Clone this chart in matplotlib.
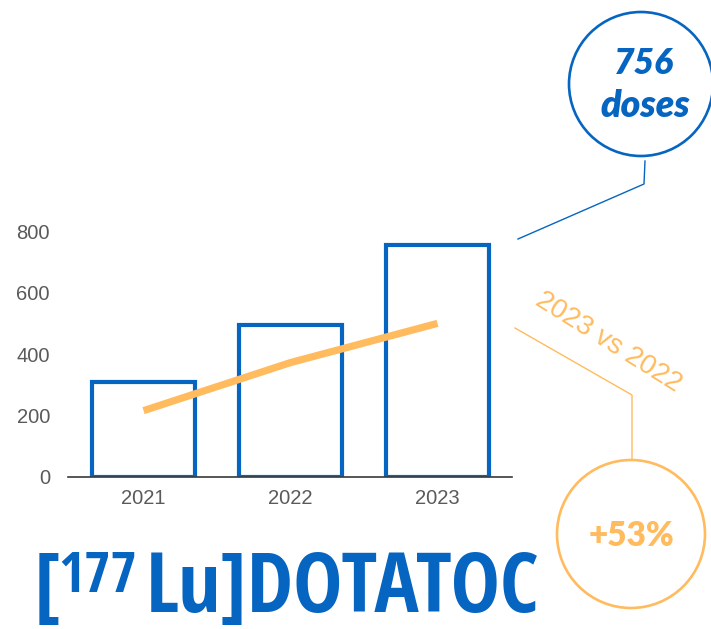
import matplotlib
matplotlib.use('Agg')
import matplotlib.pyplot as plt
from matplotlib import font_manager
from matplotlib.patches import Circle

# data
years = ['2021', '2022', '2023']
doses = [310, 495, 756]
trend = [215, 372, 500]
y_ticks = [0, 200, 400, 600, 800]

BLUE = '#0565C1'
ORANGE = '#FFBB5E'
GREY = '#5A5A5A'
W, H = 711, 629

# look for a condensed bold face for the title
def pick_condensed():
    found = []
    for f in font_manager.fontManager.ttflist:
        narrow = ('Condensed' in f.name or 'Narrow' in f.name or
                  'condensed' in str(f.stretch) or 'Condensed' in f.fname or 'Narrow' in f.fname)
        w = f.weight if isinstance(f.weight, int) else font_manager.weight_dict.get(f.weight, 400)
        if narrow and w >= 600 and f.style == 'normal':
            found.append(f)
    order = ['Open Sans', 'Noto Sans', 'Roboto', 'Liberation Sans Narrow', 'DejaVu Sans']
    found.sort(key=lambda f: next((i for i, n in enumerate(order) if f.name.startswith(n)), 99))
    if found:
        return font_manager.FontProperties(fname=found[0].fname)
    return font_manager.FontProperties(family='DejaVu Sans', weight='bold')

title_fp = pick_condensed()

fig = plt.figure(figsize=(W / 100, H / 100), dpi=100)

# overlay in pixel coords for the callouts and title
over = fig.add_axes([0, 0, 1, 1])
over.set_xlim(0, W)
over.set_ylim(H, 0)
over.axis('off')

ax = fig.add_axes([68 / W, 1 - 476.5 / H, 444 / W, 245 / H])
ax.patch.set_visible(False)
x = list(range(len(years)))
ax.bar(x, doses, width=0.70, facecolor='white', edgecolor=BLUE, linewidth=3)
ax.plot(x, trend, color=ORANGE, lw=5.2, solid_capstyle='butt')
ax.set_xlim(-0.514, 2.507)
ax.set_ylim(0, 800)
ax.set_xticks(x)
ax.set_xticklabels(years)
ax.set_yticks(y_ticks)
for s in ['top', 'right', 'left']:
    ax.spines[s].set_visible(False)
ax.spines['bottom'].set_color('#3a3a3a')
ax.spines['bottom'].set_linewidth(1.2)
ax.tick_params(axis='both', length=0, colors=GREY, labelsize=14.5)
ax.tick_params(axis='y', pad=13)
ax.tick_params(axis='x', pad=9)
for lab in ax.get_xticklabels() + ax.get_yticklabels():
    lab.set_family('Liberation Sans')

# blue callout
over.add_patch(Circle((641, 84), 72, fill=False, ec=BLUE, lw=1.9))
over.plot([645, 644, 518], [161, 184, 239], color=BLUE, lw=1)
over.text(644, 64, '756', color=BLUE, fontsize=25.5, family='Lato', weight='heavy',
          style='italic', ha='center', va='center')
over.text(645, 106, 'doses', color=BLUE, fontsize=27, family='Lato', weight='heavy',
          style='italic', ha='center', va='center')

# orange callout
over.plot([515, 632, 632], [328, 395, 460], color=ORANGE, lw=1)
over.add_patch(Circle((631, 534), 74, fill=False, ec=ORANGE, lw=1.9))
over.text(631, 536, '+53%', color=ORANGE, fontsize=24, family='Lato', weight='heavy',
          ha='center', va='center')
over.text(608, 342, '2023 vs 2022', color=ORANGE, fontsize=20, family='Liberation Sans',
          rotation=-32, rotation_mode='anchor', ha='center', va='center')

# title in pieces: [ 177 Lu]DOTATOC
fs = 59
main = over.text(146, 612, 'Lu]DOTATOC', color=BLUE, fontproperties=title_fp, fontsize=fs,
                 ha='left', va='baseline')
r = fig.canvas.get_renderer()
k = 394 / main.get_window_extent(r).width
k = min(max(k, 0.8), 1.04)
main.set_fontsize(fs * k)
over.text(137, 592, '177', color=BLUE, fontproperties=title_fp, fontsize=fs * 0.68 * k,
          ha='right', va='baseline')
over.text(34, 612, '[', color=BLUE, fontproperties=title_fp, fontsize=fs * k,
          ha='left', va='baseline')

fig.savefig('out.png', dpi=100, facecolor='white')
